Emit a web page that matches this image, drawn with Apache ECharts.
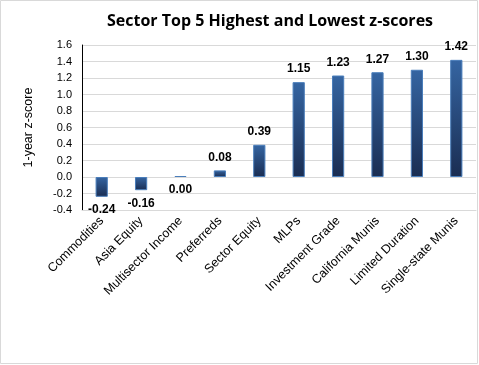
<!DOCTYPE html>
<html><head><meta charset="utf-8">
<script src="https://cdn.jsdelivr.net/npm/echarts@6/dist/echarts.min.js"></script>
<style>html,body{margin:0;padding:0;background:#fff}#c{width:479px;height:365px}</style>
</head><body><div id="c"></div>
<script>
const categories = ['Commodities','Asia Equity','Multisector Income','Preferreds','Sector Equity','MLPs','Investment Grade','California Munis','Limited Duration','Single-state Munis'];
const values = [-0.24,-0.16,0.00,0.08,0.39,1.15,1.23,1.27,1.30,1.42];
const yTicks = {min:-0.4,max:1.6,interval:0.2};

const chart = echarts.init(document.getElementById('c'));
const grad = new echarts.graphic.LinearGradient(0,0,0,1,[{offset:0,color:'#3565a2'},{offset:1,color:'#1a2d52'}]);
chart.setOption({
  animation:false,
  textStyle:{fontFamily:'Liberation Sans, Arial, sans-serif'},
  title:{text:'Sector Top 5 Highest and Lowest z-scores',left:102,top:8,
    textStyle:{fontSize:16,fontWeight:'bold',color:'#000',fontFamily:'Open Sans'}},
  graphic:[{type:'rect',shape:{x:0.5,y:0.5,width:477,height:363},style:{fill:'none',stroke:'#d9d9d9',lineWidth:1},silent:true}],
  grid:{left:82,right:3,top:45,bottom:155},
  xAxis:{type:'category',data:categories,
    axisLine:{onZero:false,show:true,lineStyle:{color:'#d9d9d9'}},
    axisTick:{show:false},
    axisLabel:{rotate:45,interval:0,fontSize:12.5,color:'#000',margin:9}},
  yAxis:{type:'value',min:yTicks.min,max:yTicks.max,interval:yTicks.interval,
    name:'1-year z-score',nameLocation:'middle',nameGap:47,nameRotate:90,
    nameTextStyle:{fontSize:12.5,color:'#000'},
    axisLine:{show:true,lineStyle:{color:'#000'}},
    axisTick:{show:false},
    splitLine:{lineStyle:{color:'#d9d9d9'}},
    axisLabel:{fontSize:11,color:'#000',margin:10,formatter:v=>v.toFixed(1)}},
  series:[{type:'bar',barWidth:'31%',barMinHeight:1,
    data:values.map(v=>({value:v,label:{position:v<=0?'bottom':'top'}})),
    itemStyle:{color:grad,borderColor:'#4a7ebb',borderWidth:1},
    label:{show:true,fontSize:12,fontWeight:'bold',color:'#000',distance:7,
      formatter:p=>p.value.toFixed(2)}}]
});
</script></body></html>
